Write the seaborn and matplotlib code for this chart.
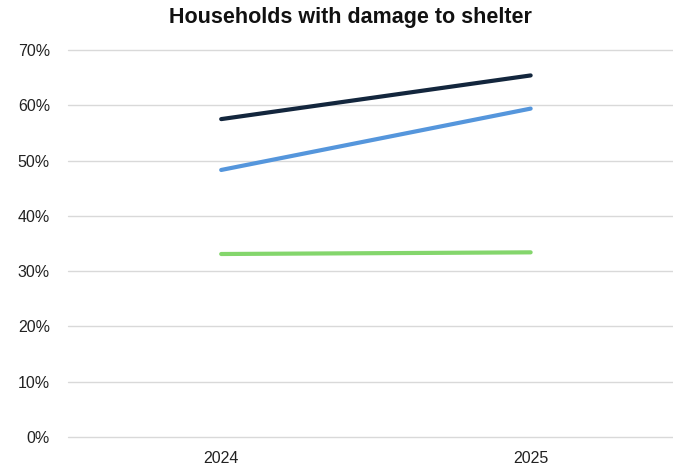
import matplotlib
matplotlib.use("Agg")
import matplotlib.pyplot as plt
import seaborn as sns
import pandas as pd
from matplotlib.ticker import PercentFormatter

years = ["2024", "2025"]
series_names = ["Series A", "Series B", "Series C"]
series_a = [57.5, 65.4]
series_b = [48.3, 59.4]
series_c = [33.1, 33.4]
colors = ["#13263d", "#5596dc", "#84d66c"]
yticks = [0, 10, 20, 30, 40, 50, 60, 70]
title = "Households with damage to shelter"

rows = []
for name, vals in zip(series_names, [series_a, series_b, series_c]):
    for y, v in zip(years, vals):
        rows.append({"year": y, "value": v, "series": name})
df = pd.DataFrame(rows)

sns.set_theme(style="white")
plt.rcParams["font.family"] = ["Liberation Sans", "DejaVu Sans"]

fig = plt.figure(figsize=(6.73, 4.67), dpi=100)
ax = fig.add_axes([68 / 673, 1 - 437 / 467, 1 - 68 / 673, (437 - 50) / 467])
sns.lineplot(data=df, x="year", y="value", hue="series", palette=colors,
             linewidth=3, ax=ax, legend=False, sort=False)
for line in ax.lines:
    line.set_solid_capstyle("round")

ax.set_xlim(-0.495, 1.46)
ax.set_ylim(0, 70)
ax.set_yticks(yticks)
ax.yaxis.set_major_formatter(PercentFormatter(decimals=0))
ax.grid(axis="y", color="#d9d9d9", linewidth=1)
for gl in ax.get_ygridlines():
    gl.set_clip_on(False)
ax.set_axisbelow(True)
for s in ax.spines.values():
    s.set_visible(False)
ax.tick_params(axis="both", length=0, labelsize=11.5, colors="#222222")
ax.tick_params(axis="y", pad=13)
ax.tick_params(axis="x", pad=10)
ax.set_xlabel("")
ax.set_ylabel("")
fig.text(350 / 673, 1 - 17 / 467, title, ha="center", va="center",
         fontsize=15.5, fontweight="bold", color="#111111")

fig.savefig("out.png", dpi=100)
